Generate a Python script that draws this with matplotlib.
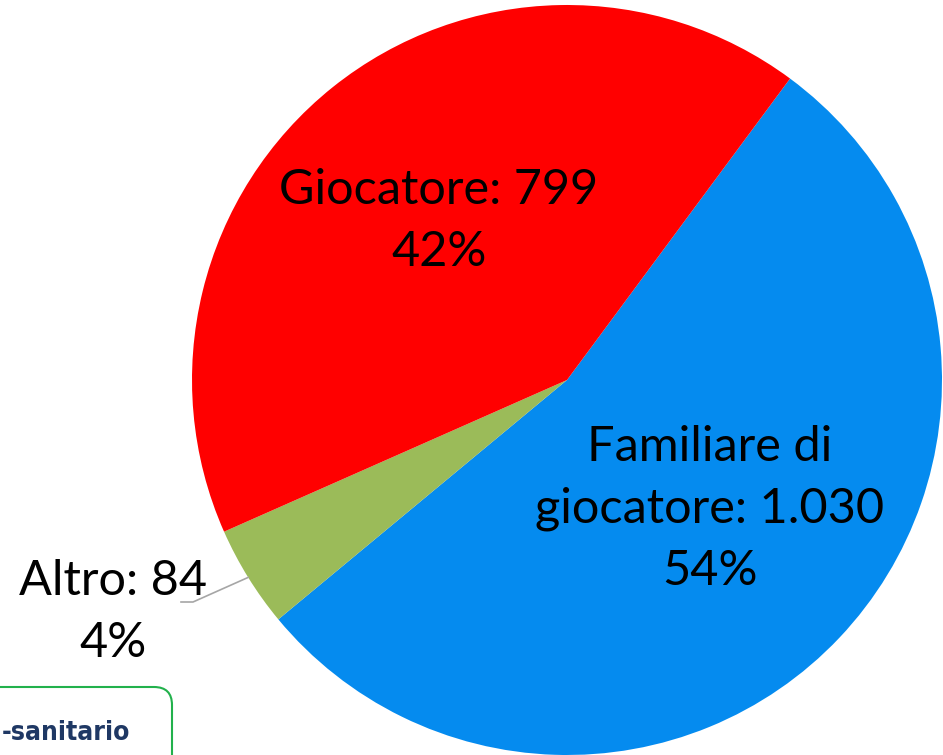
import numpy as np
import matplotlib.pyplot as plt
from matplotlib.patches import FancyBboxPatch

# data
categories = ["Familiare di\ngiocatore", "Altro", "Giocatore"]
values = [1030, 84, 799]
value_text = ["1.030", "84", "799"]
colors = ["#058BEF", "#9BBB59", "#FF0000"]

plt.rcParams["font.family"] = ["Lato", "DejaVu Sans"]

W, H = 943, 755
fig = plt.figure(figsize=(W / 100, H / 100), dpi=100)
ax = fig.add_axes([0, 0, 1, 1])

cx, cy, r = 567, H - 380, 375
wedges, _ = ax.pie(
    values,
    colors=colors,
    startangle=53.5,
    counterclock=False,
    center=(cx, cy),
    radius=r,
    wedgeprops=dict(linewidth=0),
    frame=True,
)
ax.set_xlim(0, W)
ax.set_ylim(0, H)
ax.set_aspect("equal")
ax.axis("off")

total = sum(values)
pct = [round(v / total * 100) for v in values]
fs = 35

# label positions (pixel coords from top)
pos = [(710, 509), (113, 612), (439, 221)]
for i, (x, y) in enumerate(pos):
    name = categories[i]
    txt = f"{name}: {value_text[i]}\n{pct[i]}%"
    ax.text(x, H - y, txt, ha="center", va="center", fontsize=fs,
            color="black", linespacing=1.5)

# leader line for Altro
w = wedges[1]
mid = np.deg2rad((w.theta1 + w.theta2) / 2)
sx = cx + r * np.cos(mid)
sy = cy + r * np.sin(mid)
ax.plot([sx, 193, 181], [sy, H - 602, H - 602], color="#A6A6A6", lw=1.2)

# partial text box in bottom-left corner
box = FancyBboxPatch((-40, -40), 212, H - 687 + 40,
                     boxstyle="round,pad=0,rounding_size=18",
                     fc="white", ec="#22B14C", lw=1.5, clip_on=True)
ax.add_patch(box)
ax.text(2, H - 733, "-sanitario", ha="left", va="center", fontsize=19,
        fontweight="bold", fontstretch="condensed", color="#1F3864",
        family=["DejaVu Sans", "Liberation Sans Narrow"])

fig.savefig("out.png", dpi=100)
